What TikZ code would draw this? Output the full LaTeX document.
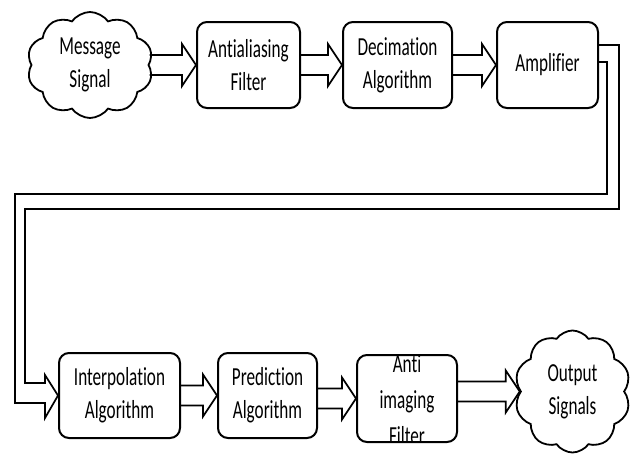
\documentclass[tikz,border=0pt]{standalone}
\usepackage{fontspec}
\setmainfont[FakeStretch=0.66, Ligatures={NoCommon}]{Carlito}
\usetikzlibrary{calc,shapes.symbols}

\tikzset{
  stage/.style={draw, line width=2pt, rounded corners=10pt, align=center,
    inner sep=0pt, font=\fontsize{26}{33}\selectfont},
  puff/.style={cloud, draw, line width=1.8pt, cloud puffs=10, cloud puff arc=110,
    align=center, inner sep=0pt, font=\fontsize{26}{33}\selectfont},
  hollow/.style={draw, line width=1.7pt, line join=miter, to path={
    let \p1=(\tikztostart.east), \p2=(\tikztotarget.west) in
    (\x1,\y2+10pt) -- (\x2-14pt,\y2+10pt) -- (\x2-14pt,\y2+21pt) -- (\p2)
    -- (\x2-14pt,\y2-21pt) -- (\x2-14pt,\y2-10pt) -- (\x1,\y2-10pt)}},
  band/.style={draw, line width=1.7pt, line join=miter}
}

\begin{document}
\begin{tikzpicture}[x=1pt, y=-1pt]
  \useasboundingbox[fill=white] (0,0) rectangle (634,455);

  % top row
  \node[puff, minimum width=126pt, minimum height=106pt] (msg) at (90,65) {Message\\Signal};
  \node[stage, minimum width=103pt, minimum height=86pt] (aaf) at (248.5,65) {Antialiasing\\Filter};
  \node[stage, minimum width=109pt, minimum height=86pt] (dec) at (397.5,65) {Decimation\\Algorithm};
  \node[stage, minimum width=101pt, minimum height=86pt] (amp) at (547.5,65) {Amplifier};

  % bottom row
  \node[stage, minimum width=121pt, minimum height=85pt] (interp) at (119.5,395.5) {Interpolation\\Algorithm};
  \node[stage, minimum width=99pt, minimum height=85pt] (pred) at (267.5,395.5) {Prediction\\Algorithm};
  \node[stage, minimum width=100pt, minimum height=87pt,
        path picture={\node[align=center, font=\fontsize{26}{36}\selectfont]
          at ([yshift=-1pt]path picture bounding box.center) {Anti\\imaging\\Filter};}]
        (anti) at (407,398.5) {};
  \node[puff, minimum width=116pt, minimum height=122pt] (out) at (572.5,391.5) {Output\\Signals};

  % hollow block arrows between stages
  \draw[hollow] (msg) to (aaf);
  \draw[hollow] (aaf) to (dec);
  \draw[hollow] (dec) to (amp);
  \draw[hollow] (interp) to (pred);
  \draw[hollow] (pred) to (anti);
  \draw[hollow] (anti) to (out);

  % folded band from the amplifier down to the interpolation stage
  \draw[band] ([yshift=20pt]amp.east) -- (619,45) -- (619,209) -- (25,209)
    -- (25,383) -- (45,383) -- (45,375) -- (interp.west) -- (45,418)
    -- (45,403) -- (15,403) -- (15,194) -- (607,194) -- (607,62)
    -- ([yshift=3pt]amp.east);
\end{tikzpicture}
\end{document}
